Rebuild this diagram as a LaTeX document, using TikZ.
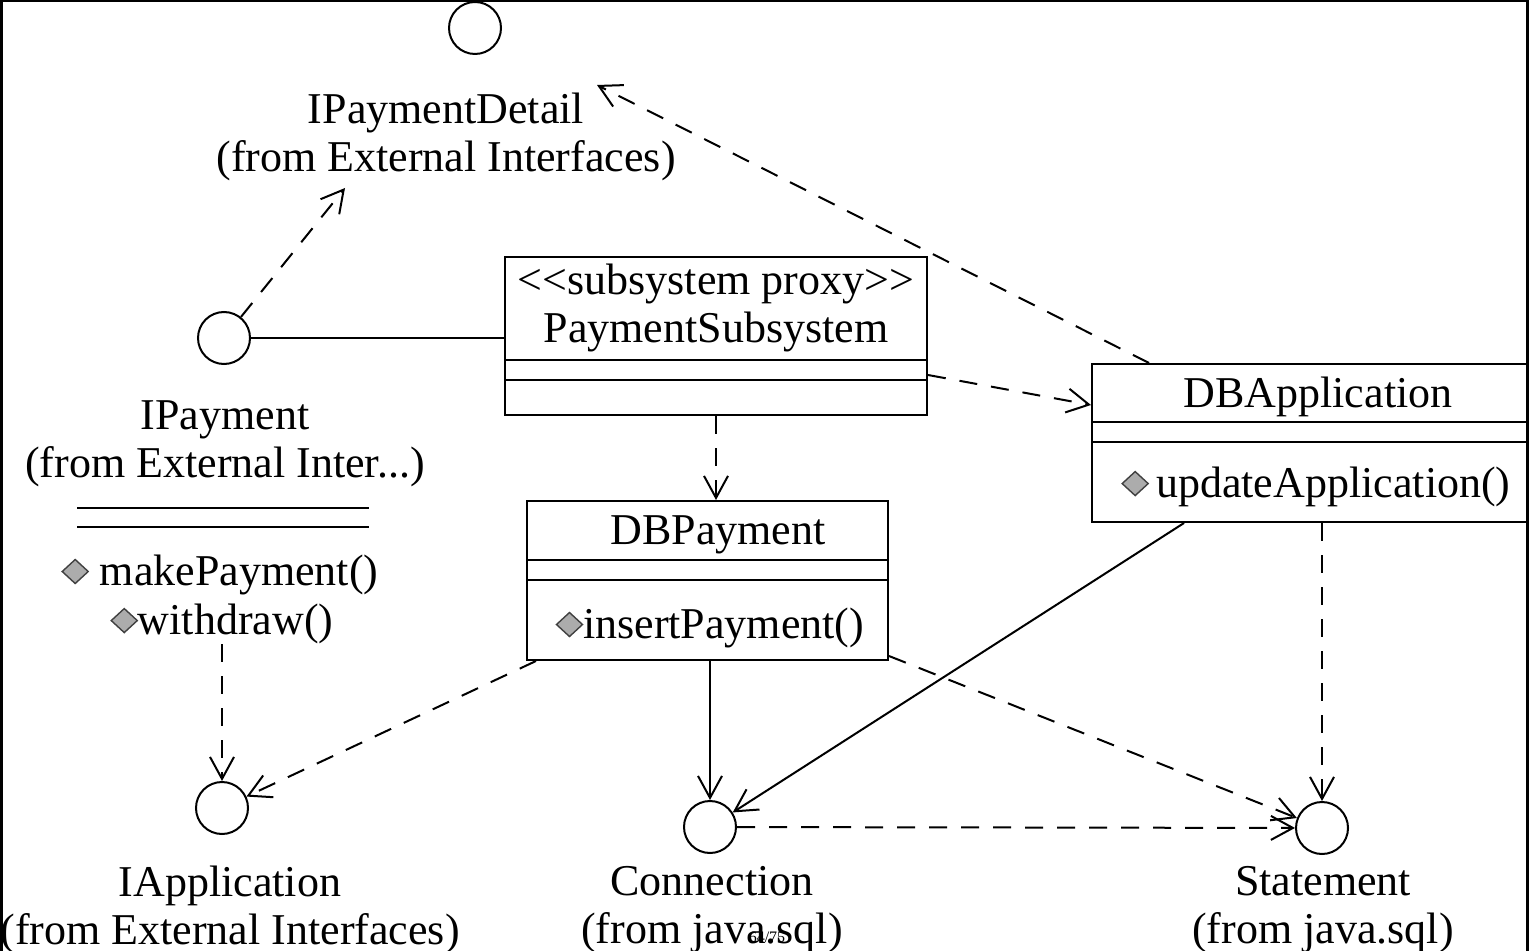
\documentclass[tikz,border=0pt]{standalone}
\usepackage{fontspec}
\setmainfont{Liberation Serif}
\usetikzlibrary{arrows.meta,positioning,shapes.geometric}
\newcommand{\opicon}{\tikz[baseline=0pt]\draw[fill=gray!65,draw=black!75,line width=0.7pt] (0pt,13pt) -- (6.5pt,7pt) -- (0pt,1pt) -- (-6.5pt,7pt) -- cycle;}

\begin{document}
\begin{tikzpicture}[x=0.5pt,y=-0.5pt,font=\fontsize{22}{24}\selectfont]
\tikzstyle{iface}=[circle,draw=black,line width=1pt,minimum size=26pt,inner sep=0pt]
\tikzstyle{classbox}=[rectangle,draw=black,line width=1pt,inner sep=0pt]
\tikzstyle{ifname}=[align=center,inner sep=0pt]
\tikzstyle{dep}=[line width=1pt,dash pattern=on 9pt off 7pt,-{Straight Barb[length=11pt,width=12pt]}]
\tikzstyle{nav}=[line width=1pt,-{Straight Barb[length=11pt,width=12pt]}]
\tikzstyle{assoc}=[line width=1pt]

\useasboundingbox (0,0) rectangle (1529,951);
\fill[black] (0,0) rectangle (1529,951);
\fill[white] (3,2) rectangle (1526,951);

% interfaces
\node[iface] (pdet) at (475,28) {};
\node[ifname] (pdetname) at (446,137) {IPaymentDetail\\(from External Interfaces)};
\node[iface] (ipay) at (224,338) {};
\node[ifname] (ipayname) at (225,444) {IPayment\\(from External Inter...)};
\draw[line width=1pt] (77,508) -- (369,508);
\draw[line width=1pt] (77,527) -- (369,527);
\node[ifname] (makepay) at (220,575) {\opicon\ makePayment()};
\node[ifname] (withdr) at (222,624) {\opicon withdraw()};
\node[iface] (iapp) at (222,808) {};
\node[ifname] (iappname) at (230,910) {IApplication\\(from External Interfaces)};
\node[iface] (conn) at (710,827) {};
\node[ifname] (connname) at (712,910) {Connection\\(from java.sql)};
\node[iface] (stat) at (1322,828) {};
\node[ifname] (statname) at (1323,910) {Statement\\(from java.sql)};

% classes
\node[classbox,minimum width=211pt,minimum height=79pt] (proxy) at (716,336) {};
\draw[line width=1pt] (proxy.west |- 0,360) -- (proxy.east |- 0,360);
\draw[line width=1pt] (proxy.west |- 0,380) -- (proxy.east |- 0,380);
\node[ifname] (proxystereo) at (716,284) {<\kern0pt<subsystem proxy>\kern0pt>};
\node[ifname] (proxyname) at (716,332) {PaymentSubsystem};

\node[classbox,minimum width=180.5pt,minimum height=79.5pt] (dbpay) at (707.5,580.5) {};
\draw[line width=1pt] (dbpay.west |- 0,560) -- (dbpay.east |- 0,560);
\draw[line width=1pt] (dbpay.west |- 0,580) -- (dbpay.east |- 0,580);
\node[ifname] (dbpayname) at (718,535) {DBPayment};
\node[ifname] (dbpayop) at (710,628) {\opicon insertPayment()};

\node[classbox,minimum width=234pt,minimum height=79pt] (dbapp) at (1326,443) {};
\draw[line width=1pt] (dbapp.west |- 0,422) -- (dbapp.east |- 0,422);
\draw[line width=1pt] (dbapp.west |- 0,442) -- (dbapp.east |- 0,442);
\node[ifname] (dbappname) at (1318,397) {DBApplication};
\node[ifname] (dbappop) at (1316,487) {\opicon\,updateApplication()};

\coordinate (pdetin) at (345,188);
\coordinate (pdetin2) at (597,85);

% connectors
\draw[assoc] (ipay) -- (ipay -| proxy.west);
\draw[dep] (ipay) -- (pdetin);
\draw[dep] ([xshift=29pt]dbapp.north west) -- (pdetin2);
\draw[dep] ([yshift=-19.5pt]proxy.east) -- ([yshift=19pt]dbapp.west);
\draw[dep] (proxy.south) -- (proxy.south |- dbpay.north);
\draw[dep] ([xshift=5pt]dbpay.south west) -- (iapp);
\draw[nav] (conn |- dbpay.south) -- (conn);
\draw[dep] ([yshift=2.5pt]dbpay.south east) -- (stat);
\draw[nav] ([xshift=46.5pt]dbapp.south west) -- (conn);
\draw[dep] (stat |- dbapp.south) -- (stat);
\draw[dep] (conn) -- (stat);
\draw[dep] (iapp |- withdr.south) -- (iapp);

\node[font=\fontsize{8}{9}\selectfont] (pgno) at (767,937) {64/75};
\fill[black] (1526,0) rectangle (1529,951);
\end{tikzpicture}
\end{document}
